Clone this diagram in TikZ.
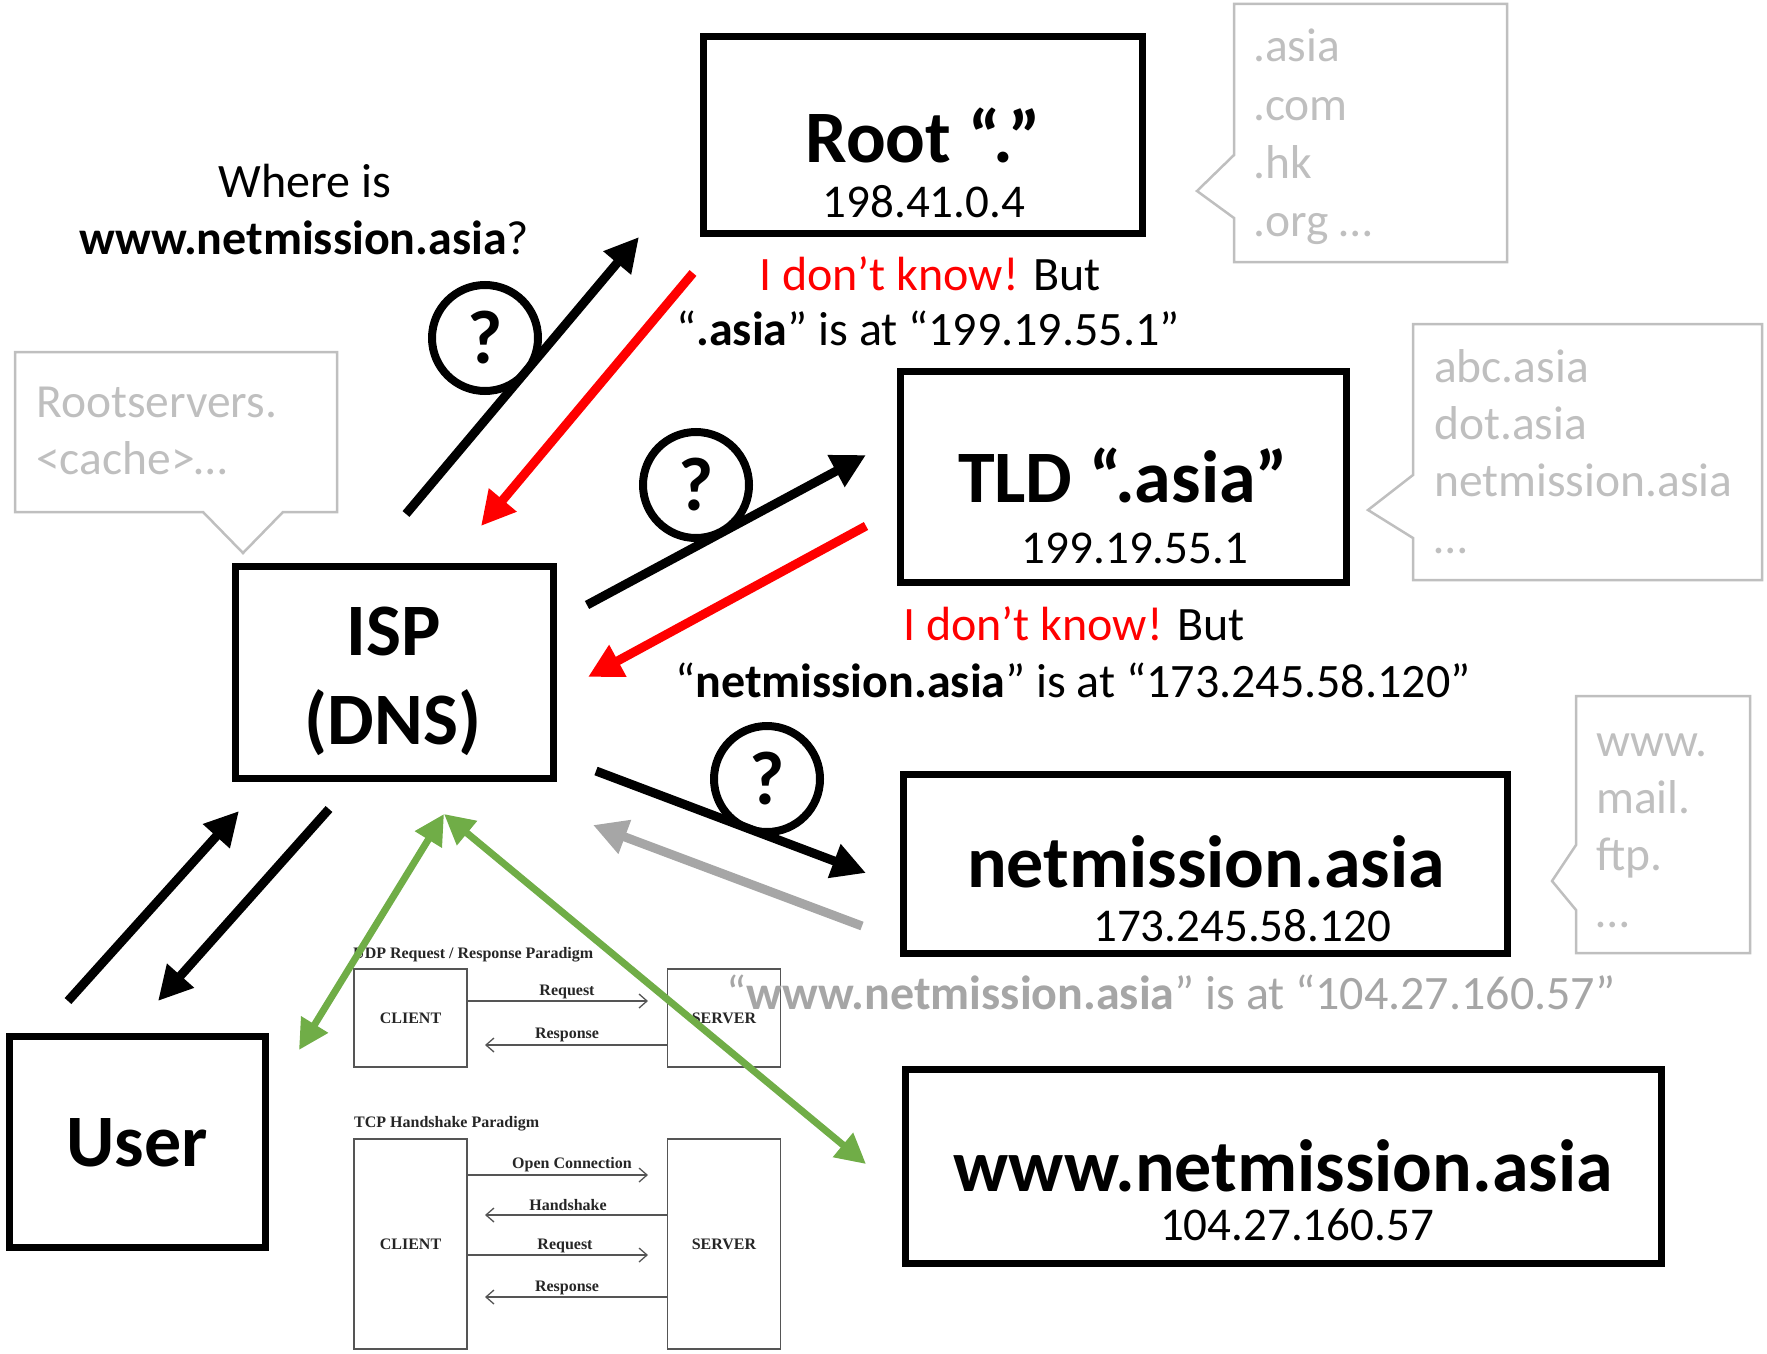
\documentclass[tikz,border=0pt]{standalone}
\usepackage{fontspec}
\setmainfont{Carlito}
\newfontfamily\insetfont{Liberation Serif}
\usetikzlibrary{arrows.meta}
\definecolor{nored}{HTML}{FF0000}
\definecolor{linkgreen}{HTML}{70AD47}
\definecolor{fadegray}{HTML}{A6A6A6}
\definecolor{bubblegray}{HTML}{BFBFBF}
\definecolor{insetgray}{HTML}{555555}

\begin{document}
\begin{tikzpicture}[x=1pt, y=-1pt,
  box/.style={draw, line width=7pt, inner sep=0pt},
  ttl/.style={anchor=base, inner sep=0pt, font=\fontsize{74}{80}\selectfont\bfseries},
  ipaddr/.style={anchor=base, inner sep=0pt, font=\fontsize{47}{54}\selectfont},
  txt/.style={anchor=base, inner sep=0pt, font=\fontsize{48}{56}\selectfont},
  bubble/.style={draw=bubblegray, line width=2.5pt},
  btxt/.style={anchor=base west, inner sep=0pt, text=bubblegray, font=\fontsize{47.5}{56}\selectfont},
  ask/.style={line width=9pt, -{Triangle[length=34pt,width=34pt]}},
  reply/.style={ask, color=nored},
  link/.style={line width=7pt, color=linkgreen, {Triangle[length=30pt,width=30pt]}-{Triangle[length=30pt,width=30pt]}},
  qring/.style={circle, draw, line width=8pt, minimum size=106pt, inner sep=0pt, font=\fontsize{76}{80}\selectfont\bfseries},
  ibox/.style={draw=insetgray, line width=1.3pt, inner sep=0pt, text=black!85, font=\insetfont\bfseries\fontsize{16}{18}\selectfont},
  itxt/.style={anchor=base, inner sep=0pt, text=black!85, font=\insetfont\bfseries\fontsize{16}{18}\selectfont},
  iarrow/.style={draw=insetgray, line width=1.3pt, -{Straight Barb[length=8pt,width=14pt]}}]
\useasboundingbox (0,0) rectangle (1767,1354);

% servers
\node[box, minimum width=439pt, minimum height=197pt] (root) at (923,135) {};
\node[ttl] (rootname) at (923,162) {Root “.”};
\node[ipaddr] (rootip) at (924,217) {198.41.0.4};
\node[box, minimum width=446pt, minimum height=211pt] (tld) at (1123,476.5) {};
\node[ttl] (tldname) at (1123,502) {TLD “.asia”};
\node[ipaddr] (tldip) at (1135,563) {199.19.55.1};
\node[box, minimum width=604pt, minimum height=179pt] (auth) at (1205,863.5) {};
\node[ttl] (authname) at (1206,887) {netmission.asia};
\node[ipaddr] (authip) at (1242,941) {173.245.58.120};
\node[box, minimum width=756pt, minimum height=194pt] (web) at (1283,1166) {};
\node[ttl] (webname) at (1283,1191) {www.netmission.asia};
\node[ipaddr] (webip) at (1297,1240) {104.27.160.57};
\node[box, minimum width=318pt, minimum height=212pt] (isp) at (394.5,672.5) {};
\node[ttl] (ispname) at (394,655) {ISP};
\node[ttl] (dnsname) at (393,744) {(DNS)};
\node[box, minimum width=256pt, minimum height=211pt] (user) at (137,1141.5) {};
\node[ttl] (username) at (137,1166) {User};

% speech bubbles
\draw[bubble] (15,352) -- (337,352) -- (337,512) -- (283,512) -- (243,553) -- (203,512) -- (15,512) -- cycle;
\node[btxt] (cache1) at (36,417) {Rootservers.};
\node[btxt] (cache2) at (36,474) {<cache>…};
\draw[bubble] (1234,4) -| (1507,262) -| (1234,218) -- (1197,191) -- (1234,155) -- cycle;
\foreach \t [count=\i] in {.asia,.com,.hk,.org …}
  \node[btxt] (tldlist\i) at (1253,{62+58*(\i-1)}) {\t};
\draw[bubble] (1413,324) -| (1762,580) -| (1413,538) -- (1368,510) -- (1413,475) -- cycle;
\foreach \t [count=\i] in {abc.asia,dot.asia,netmission.asia,…}
  \node[btxt] (domlist\i) at (1434,{382+57*(\i-1)}) {\t};
\draw[bubble] (1576,696) -| (1750,953) -| (1576,910) -- (1552,881) -- (1576,845) -- cycle;
\foreach \t [count=\i] in {www.,mail.,ftp.,…}
  \node[btxt] (hostlist\i) at (1596,{756+57*(\i-1)}) {\t};

% texts
\node[txt] (where1) at (305,197) {Where is};
\node[txt] (where2) at (304,254) {\textbf{www.netmission.asia}?};
\node[txt] (rootans1) at (930,290) {\textcolor{nored}{I don’t know!} But};
\node[txt] (rootans2) at (928,345) {“\textbf{.asia}” is at “199.19.55.1”};
\node[txt] (tldans1) at (1074,640) {\textcolor{nored}{I don’t know!} But};
\node[txt] (tldans2) at (1073,697) {“\textbf{netmission.asia}” is at “173.245.58.120”};

% UDP / TCP inset
\node[itxt, anchor=base west] (udptitle) at (353,958) {UDP Request / Response Paradigm};
\node[ibox, minimum width=113pt, minimum height=98pt] (uclient) at (410.5,1018) {CLIENT};
\node[ibox, minimum width=113pt, minimum height=98pt] (userver) at (724,1018) {SERVER};
\coordinate (ureq) at (648,1001);
\coordinate (uresp) at (485,1045);
\draw[iarrow] (uclient.east |- ureq) -- (ureq);
\draw[iarrow] (userver.west |- uresp) -- (uresp);
\node[itxt] (ureqlbl) at (567,995) {Request};
\node[itxt] (uresplbl) at (567,1038) {Response};
\node[itxt, anchor=base west] (tcptitle) at (354,1127) {TCP Handshake Paradigm};
\node[ibox, minimum width=113pt, minimum height=210pt] (tclient) at (410.5,1244) {CLIENT};
\node[ibox, minimum width=113pt, minimum height=210pt] (tserver) at (724,1244) {SERVER};
\coordinate (topen) at (648,1175);
\coordinate (thand) at (485,1215);
\coordinate (treq) at (648,1255);
\coordinate (tresp) at (485,1297);
\draw[iarrow] (tclient.east |- topen) -- (topen);
\draw[iarrow] (tserver.west |- thand) -- (thand);
\draw[iarrow] (tclient.east |- treq) -- (treq);
\draw[iarrow] (tserver.west |- tresp) -- (tresp);
\node[itxt] (topenlbl) at (572,1168) {Open Connection};
\node[itxt] (thandlbl) at (568,1210) {Handshake};
\node[itxt] (treqlbl) at (565,1249) {Request};
\node[itxt] (tresplbl) at (567,1291) {Response};

\node[txt, text=fadegray] (webans) at (1171,1009) {“\textbf{www.netmission.asia}” is at “104.27.160.57”};

% queries and answers
\coordinate (q1a) at (406,514); \coordinate (q1b) at (639,237);
\coordinate (r1a) at (693,273); \coordinate (r1b) at (481,526);
\coordinate (q2a) at (587,605); \coordinate (q2b) at (866,455);
\coordinate (r2a) at (866,526); \coordinate (r2b) at (588,677);
\coordinate (q3a) at (596,771); \coordinate (q3b) at (866,873);
\coordinate (r3a) at (862,926); \coordinate (r3b) at (593,825);
\coordinate (u1a) at (68,1001); \coordinate (u1b) at (239,811);
\coordinate (u2a) at (329,809); \coordinate (u2b) at (158,1001);
\coordinate (g0) at (444,814);
\coordinate (g1) at (299,1050); \coordinate (g2) at (866,1164);
\draw[ask] (q1a) -- (q1b);
\draw[reply] (r1a) -- (r1b);
\draw[ask] (q2a) -- (q2b);
\draw[reply] (r2a) -- (r2b);
\draw[ask] (q3a) -- (q3b);
\draw[ask, color=fadegray] (r3a) -- (r3b);
\draw[ask] (u1a) -- (u1b);
\draw[ask] (u2a) -- (u2b);
\draw[link] (g0) -- (g1);
\draw[link] (g0) -- (g2);
\node[qring] (q1) at (485,338) {?};
\node[qring] (q2) at (696,485) {?};
\node[qring] (q3) at (767,779) {?};
\end{tikzpicture}
\end{document}
